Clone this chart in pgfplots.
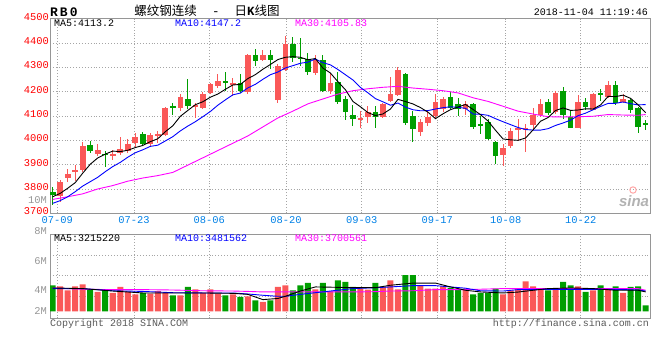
\documentclass[border=0pt]{standalone}
\usepackage{pgfplots}
\pgfplotsset{compat=1.18}
\usepackage{pgfplotstable}
\usepackage{fontspec}
\setmainfont{Liberation Mono}
\newfontfamily\cjk{Noto Sans CJK SC}
\newfontfamily\sansf{Liberation Sans}
\definecolor{cred}{RGB}{250,88,88}
\definecolor{cgreen}{RGB}{0,158,0}
\definecolor{datecol}{RGB}{0,128,230}
\definecolor{gridgray}{RGB}{165,165,165}
\definecolor{bordergray}{RGB}{150,150,150}
\definecolor{labgray}{RGB}{150,150,150}
\definecolor{mablue}{RGB}{0,0,255}
\definecolor{mamag}{RGB}{255,0,255}

% up (red) candles: index open high low close
\pgfplotstableread{
i o h l c
1 3773 3836 3748 3830
2 3845 3882 3830 3863
3 3871 3899 3833 3880
4 3878 3995 3871 3977
6 3942 3985 3936 3960
8 3940 3960 3919 3943
9 3949 4015 3940 3966
10 3958 4004 3947 3986
11 3990 4029 3974 4015
13 3984 4031 3973 4021
14 4021 4038 3990 4026
15 4022 4137 4018 4131
17 4134 4189 4121 4178
19 4137 4155 4090 4144
20 4133 4200 4127 4192
21 4196 4237 4189 4230
22 4223 4271 4214 4244
24 4230 4258 4181 4234
26 4198 4356 4192 4350
28 4332 4370 4326 4349
30 4164 4315 4153 4304
31 4290 4427 4285 4397
35 4277 4349 4267 4329
37 4201 4277 4192 4236
41 4084 4122 4051 4092
42 4095 4140 4071 4116
44 4097 4153 4092 4149
45 4160 4259 4157 4190
46 4185 4301 4181 4290
49 4033 4088 4019 4074
50 4071 4122 4058 4095
51 4099 4190 4092 4158
52 4128 4180 4118 4170
55 4130 4162 4103 4148
60 3940 3984 3894 3970
61 3977 4052 3970 4038
62 4041 4086 3997 4052
63 4041 4068 3952 4052
64 4063 4134 4042 4103
65 4103 4168 4097 4148
67 4116 4203 4109 4196
70 4052 4187 4052 4156
72 4125 4195 4123 4192
74 4180 4243 4176 4227
76 4156 4189 4152 4169
}\upc

% down (green) candles
\pgfplotstableread{
i o h l c
0 3788 3807 3734 3775
5 3981 3999 3949 3958
7 3945 3956 3892 3941
12 4025 4034 3977 3984
16 4141 4155 4103 4137
18 4171 4251 4127 4142
23 4242 4282 4203 4238
25 4234 4274 4196 4203
27 4349 4377 4304 4325
29 4349 4370 4295 4332
32 4395 4425 4322 4338
33 4340 4422 4304 4336
34 4336 4359 4267 4281
36 4332 4349 4199 4201
38 4240 4281 4151 4158
39 4168 4181 4082 4116
40 4105 4147 4058 4088
43 4116 4140 4051 4097
47 4274 4276 4062 4071
48 4101 4122 3993 4048
53 4179 4200 4127 4134
54 4148 4173 4100 4127
56 4151 4155 4045 4056
57 4066 4100 4025 4062
58 4075 4089 4001 4004
59 3994 3997 3901 3936
66 4158 4168 4103 4114
68 4203 4219 4089 4105
69 4096 4125 4052 4052
71 4156 4173 4125 4139
73 4193 4209 4160 4189
75 4229 4243 4145 4152
77 4165 4176 4112 4125
78 4133 4136 4029 4056
79 4069 4083 4043 4065
}\dnc

% moving averages MA5, MA10
\pgfplotstableread{
i ma5 ma10
0 3768 3741
1 3782 3752
2 3803 3768
3 3826 3789
4 3865 3812
5 3901.6 3830
6 3927.6 3848
7 3943.2 3871
8 3955.8 3892
9 3953.6 3909.3
10 3959.2 3930.4
11 3970.2 3948.9
12 3978.8 3961
13 3994.4 3975.1
14 4006.4 3980
15 4035.4 3997.3
16 4059.8 4015
17 4098.6 4038.7
18 4122.8 4058.6
19 4146.4 4076.4
20 4158.6 4097
21 4177.2 4118.5
22 4190.4 4144.5
23 4209.6 4166.2
24 4227.6 4187
25 4229.8 4194.2
26 4253.8 4215.5
27 4270 4230.2
28 4292.2 4250.9
29 4311.8 4269.7
30 4332 4280.9
31 4341.4 4297.6
32 4344 4307
33 4341.4 4316.8
34 4331.2 4321.5
35 4336.2 4334.1
36 4297 4319.2
37 4276.6 4310.3
38 4241 4291.2
39 4208 4269.6
40 4159.8 4248
41 4138 4217.5
42 4114 4195.3
43 4101.8 4171.4
44 4108.4 4158.2
45 4128.8 4144.3
46 4168.4 4153.2
47 4159.4 4136.7
48 4149.6 4125.7
49 4134.6 4121.5
50 4115.6 4122.2
51 4089.2 4128.8
52 4109 4134.2
53 4126.2 4137.9
54 4136.8 4135.7
55 4147.4 4131.5
56 4127 4108.1
57 4105.4 4107.2
58 4079.4 4102.8
59 4041.2 4089
60 4005.6 4076.5
61 4002 4064.5
62 4000 4052.7
63 4009.6 4044.5
64 4043 4042.1
65 4078.6 4042.1
66 4093.8 4047.9
67 4122.6 4061.3
68 4133.2 4071.4
69 4123 4083
70 4124.6 4101.6
71 4129.6 4111.7
72 4128.8 4125.7
73 4145.6 4139.4
74 4180.6 4151.8
75 4179.8 4152.2
76 4185.8 4157.7
77 4172.4 4150.6
78 4145.8 4145.7
79 4113.4 4147
}\mas

\pgfplotstableread{
i v
0 3757
2 3768
4 3780
6 3800
8 3814
10 3832
12 3845
14 3855
16 3868
18 3898
20 3928
22 3958
24 3988
26 4018
28 4055
30 4092
32 4120
34 4150
36 4170
38 4190
40 4204
42 4212
44 4218
46 4222
48 4215
50 4210
52 4204
54 4195
56 4175
58 4160
60 4140
62 4120
64 4108
66 4097
68 4096
70 4097
72 4099
74 4106
76 4104
78 4103
79 4106
}\mathirty

% volume (millions)
\pgfplotstableread{
i v
1 3.95
2 3.64
3 3.95
4 4.10
6 3.51
8 3.43
9 3.90
10 3.51
11 3.32
13 3.38
14 3.58
15 3.43
17 3.25
19 3.71
20 3.43
21 3.71
22 3.38
24 3.32
26 3.17
28 2.73
30 3.90
31 4.03
35 3.71
37 3.55
41 3.77
42 3.69
44 3.90
45 4.42
46 3.71
49 4.03
50 3.77
51 3.77
52 3.95
55 3.77
60 3.32
61 3.64
62 3.77
63 4.34
64 3.95
65 3.77
67 3.77
70 3.95
72 3.64
74 3.77
76 3.43
}\volup

\pgfplotstableread{
i v
0 4.03
5 3.71
7 3.71
12 3.43
16 3.25
18 3.90
23 3.25
25 3.12
27 2.86
29 2.86
32 3.64
33 4.03
34 4.21
36 4.21
38 4.42
39 4.29
40 3.90
43 4.21
47 4.81
48 4.81
53 3.82
54 3.71
56 3.32
57 3.43
58 3.43
59 3.77
66 3.64
68 4.29
69 4.03
71 3.51
73 4.03
75 3.95
77 3.90
78 3.95
79 2.47
}\voldn

\pgfplotstableread{
i a b c
0 3.82 3.77 3.82
4 3.77 3.77 3.72
8 3.58 3.60 3.69
12 3.43 3.55 3.69
16 3.43 3.45 3.66
20 3.43 3.43 3.60
24 3.40 3.43 3.58
26 3.32 3.35 3.55
28 2.91 3.25 3.51
30 3.00 3.17 3.51
31 3.17 3.17 3.51
33 3.58 3.32 3.51
35 3.90 3.45 3.51
37 3.88 3.58 3.51
40 3.84 3.77 3.51
43 3.84 3.84 3.53
45 4.03 3.90 3.58
48 4.20 4.00 3.60
51 4.20 4.00 3.69
53 3.90 3.90 3.69
55 3.64 3.80 3.69
57 3.51 3.60 3.72
60 3.43 3.58 3.77
62 3.50 3.69 3.77
64 3.64 3.69 3.77
66 3.77 3.71 3.77
69 3.82 3.71 3.77
72 3.77 3.71 3.77
75 3.64 3.71 3.77
78 3.64 3.66 3.77
79 3.51 3.58 3.64
}\volma

\begin{document}
\begin{tikzpicture}[x=1pt,y=1pt]
\path[use as bounding box] (0pt,0pt) rectangle (660pt,-360pt);
\pgfplotsset{
  sinaaxis/.style={
    scale only axis, width=600pt,
    xmin=-0.36, xmax=79.58,
    xtick={0.61,10.83,20.86,31.08,41.17,51.24,60.35,70.35},
    major tick length=0pt,
    axis line style={draw=bordergray, line width=1pt},
    grid=major,
    grid style={draw=gridgray, line width=0.9pt, dash pattern=on 0.9pt off 2pt},
    tick label style={font=\fontsize{10.4}{12}\selectfont},
    /pgf/number format/assume math mode=true,
    /pgf/number format/1000 sep={},
  }
}
\begin{axis}[sinaaxis,
  at={(50pt,-18.7pt)}, anchor=north west, height=194.6pt,
  ymin=3700, ymax=4500, ytick={3700,3800,...,4500},
  xticklabels={07-09,07-23,08-06,08-20,09-03,09-17,10-08,10-22},
  yticklabel style={text=red, inner sep=1pt, yshift=2pt},
  xticklabel style={text=datecol, inner sep=1pt, yshift=-2pt},
]
% wicks
\addplot[draw=none, mark=none, forget plot, error bars/.cd, y dir=both, y explicit, error mark=none,
  error bar style={draw=cred, line width=1pt, solid}]
  table[x=i, y expr={(\thisrow{h}+\thisrow{l})/2}, y error expr={(\thisrow{h}-\thisrow{l})/2}] {\upc};
\addplot[draw=none, mark=none, forget plot, error bars/.cd, y dir=both, y explicit, error mark=none,
  error bar style={draw=cgreen, line width=1pt, solid}]
  table[x=i, y expr={(\thisrow{h}+\thisrow{l})/2}, y error expr={(\thisrow{h}-\thisrow{l})/2}] {\dnc};
% bodies
\addplot[draw=none, mark=none, forget plot, error bars/.cd, y dir=both, y explicit, error mark=none,
  error bar style={draw=cred, line width=5.6pt, solid}]
  table[x=i, y expr={(\thisrow{o}+\thisrow{c})/2}, y error expr={max(abs(\thisrow{c}-\thisrow{o})/2,2.5)}] {\upc};
\addplot[draw=none, mark=none, forget plot, error bars/.cd, y dir=both, y explicit, error mark=none,
  error bar style={draw=cgreen, line width=5.6pt, solid}]
  table[x=i, y expr={(\thisrow{o}+\thisrow{c})/2}, y error expr={max(abs(\thisrow{c}-\thisrow{o})/2,2.5)}] {\dnc};
% moving averages
\addplot[mamag, line width=0.9pt, mark=none] table[x=i, y=v] {\mathirty};
\addplot[mablue, line width=0.9pt, mark=none] table[x=i, y=ma10] {\mas};
\addplot[black, line width=0.9pt, mark=none] table[x=i, y=ma5] {\mas};
\end{axis}

\begin{axis}[sinaaxis,
  at={(50pt,-234.3pt)}, anchor=north west, height=84pt,
  ymin=-0.5455, ymax=6,
  y filter/.expression={y-2},
  ytick={1.169,2.806,4.365}, yticklabels={}, xticklabels={},
]
\addplot[ybar, bar width=0.8, fill=cred, draw=none, bar shift=0pt] table[x=i, y=v] {\volup};
\addplot[ybar, bar width=0.8, fill=cgreen, draw=none, bar shift=0pt] table[x=i, y=v] {\voldn};
\addplot[mamag, line width=0.9pt, mark=none] table[x=i, y=c] {\volma};
\addplot[mablue, line width=0.9pt, mark=none] table[x=i, y=b] {\volma};
\addplot[black, line width=0.9pt, mark=none] table[x=i, y=a] {\volma};
\end{axis}

% header texts
\node[anchor=west, inner sep=0pt, font=\bfseries\fontsize{13}{14}\selectfont] at (50pt,-12pt) {R\hspace{2pt}B\hspace{2pt}0};
\node[inner sep=0pt, font=\fontsize{12.5}{14}\selectfont] at (207pt,-11pt) {{\cjk 螺纹钢连续}\ \ -\ \ {\cjk 日}\textbf{K}{\cjk 线图}};
\node[anchor=east, inner sep=0pt, font=\fontsize{10}{12}\selectfont] at (648pt,-12pt) {2018-11-04 11:19:46};
% legends
\node[anchor=west, inner sep=0pt, font=\fontsize{10}{12}\selectfont] at (54pt,-23.5pt) {MA5:4113.2};
\node[anchor=west, inner sep=0pt, font=\fontsize{10}{12}\selectfont, text=mablue] at (175pt,-23.5pt) {MA10:4147.2};
\node[anchor=west, inner sep=0pt, font=\fontsize{10}{12}\selectfont, text=mamag] at (295pt,-23.5pt) {MA30:4105.83};
\node[anchor=west, inner sep=0pt, font=\fontsize{10}{12}\selectfont] at (54pt,-238.5pt) {MA5:3215220};
\node[anchor=west, inner sep=0pt, font=\fontsize{10}{12}\selectfont, text=mablue] at (175pt,-238.5pt) {MA10:3481562};
\node[anchor=west, inner sep=0pt, font=\fontsize{10}{12}\selectfont, text=mamag] at (295pt,-238.5pt) {MA30:3700561};
% volume scale labels
\node[anchor=east, inner sep=0pt, font=\fontsize{10.4}{12}\selectfont, text=labgray] at (47pt,-200pt) {10M};
\node[anchor=east, inner sep=0pt, font=\fontsize{10.4}{12}\selectfont, text=labgray] at (47pt,-231pt) {8M};
\node[anchor=east, inner sep=0pt, font=\fontsize{10.4}{12}\selectfont, text=labgray] at (47pt,-261pt) {6M};
\node[anchor=east, inner sep=0pt, font=\fontsize{10.4}{12}\selectfont, text=labgray] at (47pt,-290pt) {4M};
\node[anchor=east, inner sep=0pt, font=\fontsize{10.4}{12}\selectfont, text=labgray] at (47pt,-311pt) {2M};
% footer
\node[anchor=west, inner sep=0pt, font=\fontsize{10}{12}\selectfont, text=black!65] at (50pt,-323.5pt) {Copyright 2018 SINA.COM};
\node[anchor=east, inner sep=0pt, font=\fontsize{10}{12}\selectfont, text=black!65] at (649pt,-323.5pt) {http://finance.sina.com.cn};
% sina watermark
\node[inner sep=0pt, font=\sansf\bfseries\itshape\fontsize{15}{16}\selectfont, text=black!30] at (634pt,-201pt) {sina};
\draw[red!35, line width=1pt] (633pt,-190pt) circle (3.2pt);
\end{tikzpicture}
\end{document}
